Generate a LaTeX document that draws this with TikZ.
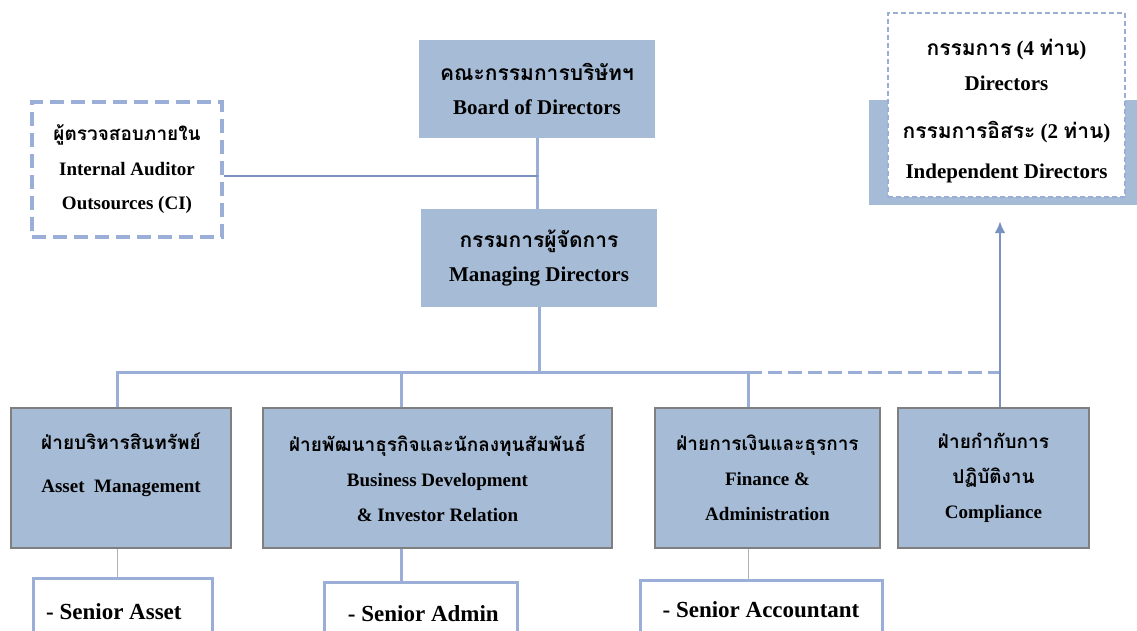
\documentclass[tikz,border=0pt]{standalone}
\usepackage{fontspec}
\setmainfont{Liberation Serif}
\newfontfamily\thaifont[Script=Thai,Scale=1.0]{Loma}
\usetikzlibrary{arrows.meta}
\definecolor{boxblue}{HTML}{A6BBD5}
\definecolor{lineblue}{HTML}{9AAED8}
\definecolor{darkline}{HTML}{7893BF}
\definecolor{boxgray}{HTML}{7F7F7F}
\newcommand\thtext[1]{{\thaifont #1}}

\begin{document}
\begin{tikzpicture}[x=1pt, y=-1pt,
        topbox/.style={rectangle, fill=boxblue, minimum width=236pt, minimum height=98pt, align=center, font=\bfseries\fontsize{21}{34}\selectfont},
        unit/.style={rectangle, draw=boxgray, fill=boxblue, line width=1.2pt, minimum height=140pt, align=center, font=\bfseries\fontsize{19}{35}\selectfont},
        outside/.style={rectangle, draw=lineblue, line width=4pt, dash pattern=on 14pt off 7pt, fill=white, minimum width=190pt, minimum height=135pt, align=center, font=\bfseries\fontsize{19}{34.5}\selectfont},
        staff/.style={rectangle, draw=lineblue, line width=3pt, fill=white, minimum height=68pt, font=\bfseries\fontsize{23}{28}\selectfont},
        link/.style={draw=lineblue, line width=3pt},
        thinlink/.style={draw=gray!60, line width=0.8pt}
    ]
    \useasboundingbox (0,0) rectangle (1137,630);

    % board and managing director
    \node[topbox] (board) at (537,89) {\thtext{คณะกรรมการบริษัทฯ} \\ Board of Directors};
    \node[topbox] (mgr) at (539,258) {\thtext{กรรมการผู้จัดการ} \\ Managing Directors};

    % internal audit
    \node[outside] (audit) at (127,169.5) {\thtext{ผู้ตรวจสอบภายใน} \\ Internal Auditor \\ Outsources (CI)};

    % directors
    \node[rectangle, fill=boxblue, minimum width=268pt, minimum height=105pt] (dirsbg) at (1003,152.5) {};
    \node[rectangle, draw=lineblue, line width=2pt, dash pattern=on 5pt off 3pt, fill=white, minimum width=237pt, minimum height=184pt, align=center, font=\bfseries\fontsize{21}{35}\selectfont] (dirs) at (1006.5,105)
        {\rule{0pt}{29pt}\thtext{กรรมการ} (4 \thtext{ท่าน}) \\ Directors \\[13pt] \thtext{กรรมการอิสระ} (2 \thtext{ท่าน}) \\[5pt] Independent Directors};

    % departments
    \node[unit, minimum width=220pt, text depth=30pt] (asset) at (121,478) {\thtext{ฝ่ายบริหารสินทรัพย์} \\[8pt] Asset~ Management};
    \node[unit, minimum width=349pt] (bizdev) at (437.5,478) {\thtext{ฝ่ายพัฒนาธุรกิจและนักลงทุนสัมพันธ์} \\ Business Development \\ \& Investor Relation};
    \node[unit, minimum width=225pt] (fin) at (767.5,478) {\thtext{ฝ่ายการเงินและธุรการ} \\ Finance \& \\ Administration};
    \node[unit, minimum width=191pt] (comp) at (993.5,478) {\thtext{ฝ่ายกำกับการ} \\ \thtext{ปฏิบัติงาน} \\ Compliance};

    % staff
    \node[staff, minimum width=179pt] (sasset) at (122.5,612) {- Senior Asset~~~~};
    \node[staff, minimum width=193pt, minimum height=64pt] (sadmin) at (420.5,614) {~- Senior Admin};
    \node[staff, minimum width=242pt, minimum height=60pt] (sacct) at (761,610) {- Senior Accountant};

    % bus coordinates
    \coordinate (jn) at (538,176);
    \coordinate (bus-a) at (117,372);
    \coordinate (bus-b) at (401,372);
    \coordinate (bus-f) at (748,372);
    \coordinate (bus-c) at (1000,372);

    % lines
    \draw[link] (board.south) -- (board.south |- mgr.north);
    \draw[draw=darkline, line width=2.5pt] (audit.east |- jn) -- (jn);
    \draw[link] (mgr.south) -- (mgr.south |- bus-a);
    \draw[link] (bus-a |- asset.north) -- (bus-a) -- (bus-f) -- (bus-f |- fin.north);
    \draw[link] (bus-b) -- (bus-b |- bizdev.north);
    \draw[link, dash pattern=on 14pt off 6pt] (bus-f) -- (bus-c);
    \draw[draw=darkline, line width=2.5pt, -{Latex[length=12pt, width=11pt]}, shorten >=16pt] (bus-c |- comp.north) -- (bus-c |- dirsbg.south);

    \draw[thinlink] (bus-a |- asset.south) -- (bus-a |- sasset.north);
    \draw[link] (bus-b |- bizdev.south) -- (bus-b |- sadmin.north);
    \draw[thinlink] (bus-f |- fin.south) -- (bus-f |- sacct.north);

\end{tikzpicture}
\end{document}
